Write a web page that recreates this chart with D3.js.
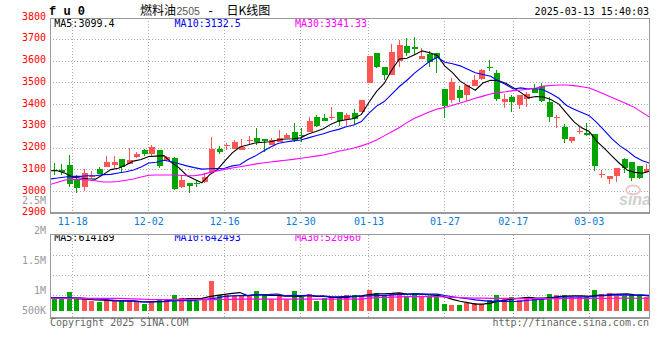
<!DOCTYPE html>
<html>
<head>
<meta charset="utf-8">
<script src="https://cdn.jsdelivr.net/npm/d3@7"></script>
<style>
  html, body { margin: 0; padding: 0; background: #fff; }
  svg { display: block; }
  text { font-family: "DejaVu Sans Mono", monospace; font-size: 10px; }
</style>
</head>
<body>
<div id="chart"></div>
<script>
// ---- data (fu2505) ----
const open  = [3097,3100,3122,3057,3022,3065,3102,3115,3122,3148, 3127,3158,3191,3173,3191,3145,3156,3023,3040,3040,
               3043,3089,3196,3208,3196,3191,3235,3248,3242,3214, 3226,3248,3272,3258,3275,3341,3337,3341,3366,3331,
               3361,3364,3498,3636,3575,3534,3601,3669,3666,3610, 3631,3636,3472,3421,3467,3444,3485,3518,3572,3544,
               3410,3436,3397,3426,3470,3487,3413,3340,3299,3234, 3276,3267,3263,3076,3056,3073,3150,3134,3118,3092];
const high  = [3130,3128,3168,3075,3102,3095,3115,3164,3164,3148, 3199,3184,3194,3214,3191,3164,3160,3075,3040,3053,
               3084,3253,3210,3225,3237,3242,3256,3294,3242,3248, 3283,3271,3314,3294,3341,3352,3357,3389,3366,3361,
               3379,3419,3624,3639,3575,3677,3697,3705,3711,3662, 3647,3636,3472,3521,3485,3490,3536,3564,3605,3559,
               3447,3444,3444,3459,3493,3498,3436,3352,3309,3252, 3298,3314,3263,3100,3073,3110,3153,3134,3118,3125];
const low   = [3075,3075,3022,2992,3003,3061,3081,3115,3107,3092, 3127,3153,3164,3164,3110,3140,3007,3018,2992,3020,
               3038,3089,3173,3191,3196,3191,3214,3214,3184,3214, 3226,3245,3230,3230,3275,3298,3325,3331,3300,3300,
               3308,3364,3498,3567,3511,3534,3575,3625,3628,3610, 3575,3547,3337,3406,3413,3416,3485,3513,3556,3416,
               3385,3366,3380,3388,3452,3413,3321,3294,3225,3225, 3263,3255,3095,3061,3035,3043,3087,3049,3058,3092];
const close = [3093,3092,3033,3018,3084,3070,3081,3136,3134,3112, 3145,3173,3173,3203,3119,3157,3012,3054,3027,3037,
               3069,3196,3184,3213,3226,3207,3238,3230,3234,3237, 3248,3260,3237,3255,3325,3302,3325,3345,3323,3353,
               3335,3419,3624,3575,3534,3644,3674,3639,3654,3625, 3598,3613,3395,3502,3432,3490,3513,3559,3567,3426,
               3426,3410,3444,3449,3455,3418,3344,3345,3242,3252, 3280,3262,3119,3082,3073,3110,3110,3064,3064,3102];

const ma5  = [3096,3096,3084,3066,3062,3059,3057,3078,3101,3107, 3122,3140,3147,3161,3163,3165,3133,3109,3074,3057,
              3040,3077,3100,3140,3178,3205,3214,3223,3227,3229, 3237,3242,3243,3247,3265,3276,3289,3310,3324,3330,
              3336,3355,3411,3461,3497,3559,3610,3613,3629,3647, 3638,3626,3577,3547,3508,3486,3466,3499,3512,3511,
              3498,3478,3455,3431,3437,3435,3422,3402,3361,3320, 3293,3276,3231,3199,3163,3129,3099,3088,3084,3094];
const ma10 = [3058,3062,3067,3070,3070,3073,3073,3078,3079,3085, 3091,3099,3113,3131,3135,3144,3137,3128,3118,3110,
              3103,3105,3106,3107,3118,3123,3146,3163,3184,3204, 3221,3228,3233,3237,3247,3257,3266,3277,3286,3298,
              3306,3322,3361,3393,3414,3448,3483,3512,3545,3572, 3599,3618,3595,3588,3578,3562,3546,3538,3530,3510,
              3492,3472,3477,3472,3474,3467,3450,3429,3396,3379, 3364,3349,3317,3280,3242,3211,3188,3160,3142,3130];
const ma30 = [3032,3043,3053,3056,3055,3053,3050,3044,3044,3046, 3052,3058,3067,3075,3076,3076,3076,3075,3073,3073,
              3078,3087,3095,3102,3108,3114,3120,3126,3131,3136, 3140,3144,3148,3153,3158,3163,3168,3176,3185,3192,
              3200,3210,3222,3237,3256,3275,3295,3317,3337,3352, 3367,3380,3387,3397,3407,3418,3429,3439,3449,3455,
              3459,3464,3467,3472,3476,3485,3488,3490,3490,3487, 3482,3476,3462,3447,3433,3418,3403,3386,3363,3341];

const volume = [560000,560000,784000,490000,476000,406000,378000,448000,406000,420000,
                406000,406000,280000,364000,462000,462000,658000,518000,518000,406000,
                434000,1260000,658000,658000,616000,616000,616000,826000,658000,490000,
                616000,490000,826000,588000,700000,406000,518000,588000,588000,658000,
                658000,616000,868000,742000,658000,742000,742000,616000,742000,616000,
                616000,616000,280000,238000,238000,308000,308000,280000,448000,658000,
                518000,588000,448000,588000,490000,546000,700000,658000,658000,560000,
                560000,560000,868000,700000,742000,616000,616000,658000,658000,588000];
const volMa5  = [532000,532000,532000,532000,500000,480000,450000,440000,423000,412000,
                 412000,417000,384000,375000,384000,395000,445000,480000,500000,505000,
                 515000,590000,640000,683000,725000,762000,633000,666000,666000,641000,
                 641000,616000,616000,602000,644000,602000,608000,560000,560000,552000,
                 602000,622000,678000,708000,708000,725000,750000,700000,700000,692000,
                 666000,641000,574000,473000,398000,336000,274000,274000,316000,400000,
                 442000,498000,532000,560000,526000,532000,554000,596000,610000,624000,
                 627000,599000,641000,650000,686000,697000,708000,666000,658000,614189];
const volMa10 = [546000,546000,546000,544000,540000,510000,495000,480000,450000,420000,
                 410000,405000,370000,355000,375000,385000,415000,420000,420000,425000,
                 470000,500000,540000,604000,619000,635000,630000,661000,675000,683000,
                 702000,625000,641000,634000,643000,622000,612000,588000,581000,598000,
                 602000,615000,619000,634000,630000,664000,686000,689000,704000,700000,
                 696000,696000,637000,587000,545000,501000,458000,424000,395000,399000,
                 389000,386000,403000,438000,463000,487000,526000,564000,585000,575000,
                 580000,577000,619000,630000,655000,662000,654000,654000,654000,642493];
const volMa30 = [518000,518000,518000,518000,518000,518000,518000,518000,518000,518000,
                 510000,500000,485000,470000,462000,462000,462000,462000,462000,462000,
                 462000,462000,462000,470000,478000,485000,490000,490000,490000,490000,
                 490000,490000,490000,490000,490000,490000,490000,490000,490000,490000,
                 490000,490000,530000,545000,560000,570000,580000,588000,588000,588000,
                 588000,588000,575000,560000,550000,540000,530000,525000,520000,520000,
                 515000,515000,510000,510000,510000,510000,510000,510000,515000,515000,
                 515000,515000,518000,520000,522000,524000,524000,522000,522000,520960];

const tickLabels = ["11-18","12-02","12-16","12-30","01-13","01-27","02-17","03-03"];
const tickIndex  = [3, 13, 23, 33, 42, 52, 61, 71];
const priceTicks = [3800,3700,3600,3500,3400,3300,3200,3100,3000,2900];
const volTickLabels = ["2.5M","2M","1.5M","1M","500K"];
const volTickValues = [2500000,2000000,1500000,1000000,500000];
const legendMain = ["MA5:3099.4","MA10:3132.5","MA30:3341.33"];
const legendVol  = ["MA5:614189","MA10:642493","MA30:520960"];
const maColors = ["#000","#00f","#f0f"];

// ---- layout ----
const width = 660, height = 360;
const left = 50, right = 650;
const priceTop = 17.6, priceBottom = 213.3;
const volTop = 234.7, volBottom = 318.3, volBase = 310.7;
const upColor = "#ff5555", downColor = "#00a600", gridColor = "#aaa", frameColor = "#999";

const svg = d3.select("#chart").append("svg")
  .attr("width", width)
  .attr("height", height);

const n = close.length;
const xBand = d3.scaleBand().domain(d3.range(n)).range([left, right]);
const xPoint = d3.scalePoint().domain(d3.range(n)).range([left, right]);
const y = d3.scaleLinear().domain([2900, 3800]).range([priceBottom, priceTop]);
const yVol = d3.scaleLinear().domain([0, 1000000]).range([volBase, volBase - 1000000 / 42000]);
const volLabelY = d3.scaleLinear().domain([1000000, 2500000]).range([294, 204]);
const cx = i => xBand(i) + xBand.bandwidth() / 2;
const isUp = i => close[i] >= open[i];

const defs = svg.append("defs");
defs.append("clipPath").attr("id", "clipMain")
  .append("rect").attr("x", left + 1).attr("y", priceTop).attr("width", right - left - 1).attr("height", priceBottom - priceTop);
defs.append("clipPath").attr("id", "clipVol")
  .append("rect").attr("x", left + 1).attr("y", volTop + 0.5).attr("width", right - left - 1).attr("height", volBottom - volTop);

//#region grids
const grid = svg.append("g")
  .attr("stroke", gridColor)
  .attr("stroke-dasharray", "1,2")
  .attr("shape-rendering", "crispEdges");

grid.selectAll(".hgrid")
  .data(priceTicks.slice(1, -1))
  .join("line")
  .attr("x1", left).attr("x2", right)
  .attr("y1", d => y(d)).attr("y2", d => y(d));

grid.selectAll(".vgrid")
  .data(tickIndex)
  .join("line")
  .attr("x1", d => xPoint(d)).attr("x2", d => xPoint(d))
  .attr("y1", priceTop).attr("y2", priceBottom);

grid.selectAll(".vgrid2")
  .data(tickIndex)
  .join("line")
  .attr("x1", d => xPoint(d)).attr("x2", d => xPoint(d))
  .attr("y1", volTop).attr("y2", volBottom);

grid.selectAll(".vhgrid")
  .data([1, 2, 3])
  .join("line")
  .attr("x1", left).attr("x2", right)
  .attr("y1", d => volTop + d * (volBottom - 2.3 - volTop) / 4)
  .attr("y2", d => volTop + d * (volBottom - 2.3 - volTop) / 4);
//#endregion

//#region watermark
const wm = svg.append("g");
wm.append("ellipse")
  .attr("cx", 633).attr("cy", 190).attr("rx", 7).attr("ry", 4.5)
  .attr("fill", "none").attr("stroke", "#efc9c9").attr("stroke-width", 2);
wm.append("text")
  .attr("x", 651).attr("y", 205).attr("text-anchor", "end")
  .style("font-family", "Liberation Sans, Arial, sans-serif")
  .style("font-size", "16px").style("font-weight", "bold").style("font-style", "italic")
  .attr("fill", "#cfcfcf")
  .text("sina");
//#endregion

//#region candles
const candles = svg.append("g").attr("clip-path", "url(#clipMain)").attr("shape-rendering", "crispEdges");
candles.selectAll(".wick")
  .data(d3.range(n))
  .join("line")
  .attr("x1", i => Math.round(cx(i)) + 0.5).attr("x2", i => Math.round(cx(i)) + 0.5)
  .attr("y1", i => y(high[i])).attr("y2", i => y(low[i]))
  .attr("stroke", i => isUp(i) ? upColor : downColor);

candles.selectAll(".body")
  .data(d3.range(n))
  .join("rect")
  .attr("x", i => Math.round(cx(i)) - 2.5)
  .attr("width", 6)
  .attr("y", i => y(Math.max(open[i], close[i])))
  .attr("height", i => Math.max(1, y(Math.min(open[i], close[i])) - y(Math.max(open[i], close[i]))))
  .attr("fill", i => isUp(i) ? upColor : downColor);
//#endregion

//#region moving averages
const line = d3.line().x((d, i) => xPoint(i));
const maLayer = svg.append("g").attr("clip-path", "url(#clipMain)").attr("fill", "none");
[ma5, ma10, ma30].forEach((s, k) => {
  maLayer.append("path")
    .attr("d", line.y(d => y(d))(s))
    .attr("stroke", maColors[k])
    .attr("stroke-width", 1.1);
});
//#endregion

//#region volume
const vol = svg.append("g").attr("clip-path", "url(#clipVol)");
vol.selectAll("rect")
  .data(d3.range(n))
  .join("rect")
  .attr("shape-rendering", "crispEdges")
  .attr("x", i => Math.round(cx(i)) - 2.5)
  .attr("width", 5.5)
  .attr("y", i => yVol(volume[i]))
  .attr("height", i => volBase - yVol(volume[i]))
  .attr("fill", i => isUp(i) ? upColor : downColor);

[volMa5, volMa10, volMa30].forEach((s, k) => {
  vol.append("path")
    .attr("d", line.y(d => yVol(d))(s))
    .attr("fill", "none")
    .attr("stroke", maColors[k])
    .attr("stroke-width", 1.2);
});
//#endregion

//#region frames
const frame = svg.append("g").attr("stroke", frameColor).attr("shape-rendering", "crispEdges").attr("fill", "none");
frame.append("path").attr("d", `M${left + 0.5},${priceTop} V${priceBottom} M${left},${priceTop + 0.5} H${right} M${right - 0.5},${priceTop} V${priceBottom}`);
frame.append("line").attr("x1", left).attr("x2", right).attr("y1", priceBottom).attr("y2", priceBottom).attr("stroke-width", 2);
frame.append("path").attr("d", `M${left + 0.5},${volTop} V${volBottom} M${left},${volTop} H${right} M${right - 0.5},${volTop} V${volBottom}`);
frame.append("line").attr("x1", left).attr("x2", right).attr("y1", volBottom).attr("y2", volBottom).attr("stroke-width", 2);
//#endregion

//#region labels
svg.selectAll(".plabel")
  .data(priceTicks)
  .join("text")
  .attr("x", 46).attr("y", d => y(d) + 2)
  .attr("text-anchor", "end")
  .attr("fill", "#f00")
  .text(d => d);

svg.selectAll(".vlabel")
  .data(volTickValues)
  .join("text")
  .attr("x", 46).attr("y", d => Math.min(volLabelY(d), volBottom - 4.3))
  .attr("text-anchor", "end")
  .attr("fill", "#999")
  .text((d, i) => volTickLabels[i]);

svg.selectAll(".xlabel")
  .data(tickIndex)
  .join("text")
  .attr("x", d => xPoint(d)).attr("y", 225)
  .attr("text-anchor", "middle")
  .attr("fill", "#0a7bd6")
  .text((d, i) => tickLabels[i]);

svg.selectAll(".legMain")
  .data(legendMain)
  .join("text")
  .attr("x", (d, i) => left + 4.3 + i * 120.3).attr("y", 27)
  .attr("fill", (d, i) => maColors[i])
  .text(d => d);

svg.append("g").attr("clip-path", "url(#clipVol)")
  .selectAll("text")
  .data(legendVol)
  .join("text")
  .attr("x", (d, i) => left + 4.3 + i * 120.3).attr("y", 241)
  .attr("fill", (d, i) => maColors[i])
  .text(d => d);

// header
svg.append("text")
  .attr("x", 49).attr("y", 15)
  .style("font-family", "Liberation Mono, monospace")
  .style("font-size", "12px").style("font-weight", "bold")
  .text("f u 0");

const title = svg.append("text").attr("y", 15).style("font-size", "12px");
title.append("tspan").attr("x", 140).style("font-family", "Noto Sans CJK SC").text("燃料油");
title.append("tspan").attr("x", 176.5).attr("fill", "#555")
  .style("font-family", "Liberation Sans, Arial, sans-serif").style("font-size", "10.5px").text("2505");
title.append("tspan").attr("x", 207).style("font-family", "DejaVu Sans Mono").text("-");
title.append("tspan").attr("x", 226.5).style("font-family", "Noto Sans CJK SC").text("日K线图");

svg.append("text")
  .attr("x", 649).attr("y", 15).attr("text-anchor", "end")
  .text("2025-03-13 15:40:03");

svg.append("text")
  .attr("x", 50).attr("y", 326).attr("fill", "#666")
  .text("Copyright 2025 SINA.COM");
svg.append("text")
  .attr("x", 649).attr("y", 326).attr("text-anchor", "end").attr("fill", "#666")
  .text("http://finance.sina.com.cn");
//#endregion
</script>
</body>
</html>
